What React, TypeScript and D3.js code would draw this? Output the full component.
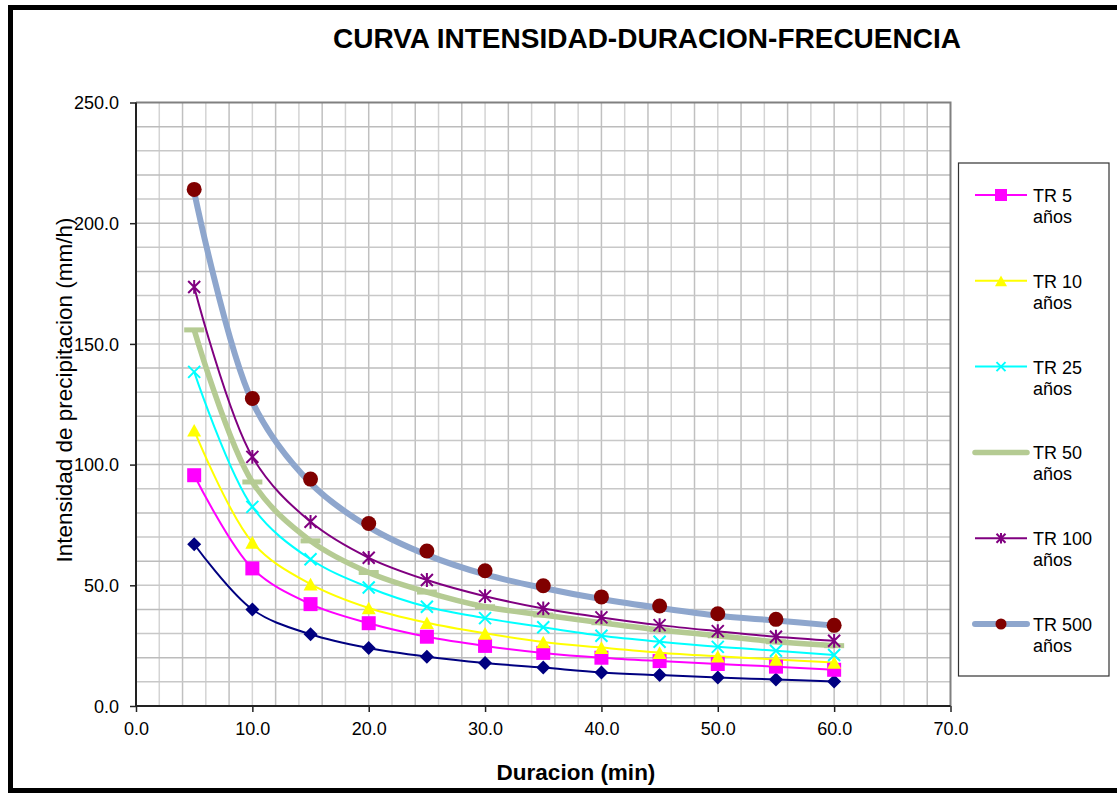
import React, { useEffect, useRef } from 'react';
import * as d3 from 'd3';

// duracion en minutos
const duraciones = [5, 10, 15, 20, 25, 30, 35, 40, 45, 50, 55, 60];

// intensidades (mm/h)
const tr2 = [67.0, 40.0, 29.7, 24.0, 20.4, 17.8, 15.9, 13.9, 12.8, 11.8, 11.0, 10.2];
const tr5 = [95.6, 57.0, 42.2, 34.3, 28.7, 24.9, 22.0, 20.0, 18.6, 17.4, 16.3, 15.0];
const tr10 = [114.2, 67.8, 50.5, 40.6, 34.5, 30.1, 26.5, 24.2, 22.1, 20.6, 19.3, 18.0];
const tr25 = [138.4, 82.5, 60.8, 49.1, 41.1, 36.4, 32.6, 29.1, 26.6, 24.5, 22.9, 21.1];
const tr50 = [155.8, 92.8, 68.4, 55.3, 47.2, 41.1, 37.7, 34.5, 31.5, 29.1, 26.6, 25.0];
const tr100 = [173.6, 103.2, 76.3, 61.4, 52.2, 45.5, 40.4, 36.7, 33.5, 31.0, 28.7, 27.0];
const tr500 = [214.0, 127.4, 94.0, 75.6, 64.2, 56.0, 49.8, 45.2, 41.4, 38.2, 35.9, 33.4];
const tr500Curva = [213.0, 126.0, 92.3, 74.2, 62.6, 54.5, 48.9, 44.3, 40.6, 37.4, 35.4, 33.3];

const xTicks = [0, 10, 20, 30, 40, 50, 60, 70];
const yTicks = [0, 50, 100, 150, 200, 250];

const series = [
  { name: null, values: tr2, line: tr2, color: '#000080', width: 2, marker: 'diamond', mcolor: '#000080' },
  { name: ['TR 5', 'años'], values: tr5, line: tr5, color: '#ff00ff', width: 2, marker: 'square', mcolor: '#ff00ff' },
  { name: ['TR 10', 'años'], values: tr10, line: tr10, color: '#ffff00', width: 2, marker: 'triangle', mcolor: '#ffff00' },
  { name: ['TR 25', 'años'], values: tr25, line: tr25, color: '#00ffff', width: 2, marker: 'x', mcolor: '#00ffff' },
  { name: ['TR 50', 'años'], values: tr50, line: tr50, color: '#b5cb93', width: 5.5, marker: 'dash', mcolor: '#b5cb93' },
  { name: ['TR 100', 'años'], values: tr100, line: tr100, color: '#800080', width: 2, marker: 'star', mcolor: '#800080' },
  { name: ['TR 500', 'años'], values: tr500, line: tr500Curva, color: '#8ea6cd', width: 6, marker: 'circle', mcolor: '#800000' },
];

const FONT = '"Liberation Sans", Arial, sans-serif';

function drawMarker(g, type, color, x, y, s) {
  if (type === 'diamond') {
    g.append('path').attr('d', `M${x},${y - s / 2}L${x + s / 2},${y}L${x},${y + s / 2}L${x - s / 2},${y}Z`).attr('fill', color);
  } else if (type === 'square') {
    g.append('rect').attr('x', x - s / 2).attr('y', y - s / 2).attr('width', s).attr('height', s).attr('fill', color);
  } else if (type === 'triangle') {
    const h = s * 0.9;
    g.append('path').attr('d', `M${x},${y - h / 2}L${x + s / 2},${y + h / 2}L${x - s / 2},${y + h / 2}Z`).attr('fill', color);
  } else if (type === 'x') {
    const r = s / 2;
    g.append('path').attr('d', `M${x - r},${y - r}L${x + r},${y + r}M${x - r},${y + r}L${x + r},${y - r}`)
      .attr('stroke', color).attr('stroke-width', 2).attr('fill', 'none');
  } else if (type === 'star') {
    const r = s / 2;
    g.append('path').attr('d', `M${x - r},${y - r}L${x + r},${y + r}M${x - r},${y + r}L${x + r},${y - r}M${x},${y - r * 1.15}L${x},${y + r * 1.15}`)
      .attr('stroke', color).attr('stroke-width', 2).attr('fill', 'none');
  } else if (type === 'dash') {
    g.append('rect').attr('x', x - 10).attr('y', y - 2.5).attr('width', 20).attr('height', 5).attr('fill', color);
  } else if (type === 'circle') {
    g.append('circle').attr('cx', x).attr('cy', y).attr('r', s / 2).attr('fill', color);
  }
}

export default function App() {
  const svgRef = useRef(null);
  const width = 1117;
  const height = 793;

  useEffect(() => {
    const svg = d3.select(svgRef.current);
    svg.selectAll('*').remove();

    svg.append('rect').attr('width', width).attr('height', height).attr('fill', '#fff');

    const x = d3.scaleLinear().domain([0, 70]).range([136, 950.5]);
    const y = d3.scaleLinear().domain([0, 250]).range([706, 102.5]);

    // cuadricula
    const grid = svg.append('g');
    d3.range(2, 70, 2).forEach((v, i) => {
      grid.append('line').attr('x1', x(v)).attr('x2', x(v)).attr('y1', y(0)).attr('y2', y(250))
        .attr('stroke', i % 2 === 0 ? '#d4d4d4' : '#c0c0c0').attr('stroke-width', 1.5);
    });
    d3.range(10, 250, 10).forEach((v, i) => {
      grid.append('line').attr('x1', x(0)).attr('x2', x(70)).attr('y1', y(v)).attr('y2', y(v))
        .attr('stroke', i % 2 === 0 ? '#c8c8c8' : '#bcbcbc').attr('stroke-width', 1.5);
    });

    // borde del area de trazado
    svg.append('path')
      .attr('d', `M${x(0)},${y(250)}L${x(70)},${y(250)}L${x(70)},${y(0)}`)
      .attr('fill', 'none').attr('stroke', '#808080').attr('stroke-width', 2);

    // ejes
    const yAxis = svg.append('g').attr('transform', `translate(${x(0)},0)`)
      .call(d3.axisLeft(y).tickValues(yTicks).tickSize(6).tickFormat(d3.format('.1f')));
    const xAxis = svg.append('g').attr('transform', `translate(0,${y(0)})`)
      .call(d3.axisBottom(x).tickValues(xTicks).tickSize(6).tickFormat(d3.format('.1f')));
    [yAxis, xAxis].forEach(a => {
      a.select('.domain').attr('stroke', '#222').attr('stroke-width', 2);
      a.selectAll('.tick line').attr('stroke', '#222').attr('stroke-width', 1.5);
      a.selectAll('.tick text').attr('font-family', FONT).attr('font-size', 18).attr('fill', '#000');
    });
    yAxis.select('.domain').attr('d', `M0,${y(250)}V${y(0)}`);
    xAxis.select('.domain').attr('d', `M${x(0)},0H${x(70)}`);
    yAxis.selectAll('.tick text').attr('x', -17).attr('dy', '0.35em');
    xAxis.selectAll('.tick text').attr('y', 16);

    // curvas
    const line = d3.line().x(d => x(d[0])).y(d => y(d[1])).curve(d3.curveCatmullRom.alpha(0.5));
    series.forEach(s => {
      svg.append('path')
        .attr('d', line(duraciones.map((d, i) => [d, s.line[i]])))
        .attr('fill', 'none').attr('stroke', s.color).attr('stroke-width', s.width)
        .attr('stroke-linejoin', 'round');
    });
    series.forEach(s => {
      const g = svg.append('g');
      const size = s.marker === 'x' ? 12 : s.marker === 'star' ? 12 : s.marker === 'circle' ? 15 : 14;
      duraciones.forEach((d, i) => drawMarker(g, s.marker, s.mcolor, x(d), y(s.values[i]), size));
    });

    // titulos
    svg.append('text').attr('x', 647).attr('y', 48).attr('text-anchor', 'middle')
      .attr('font-family', FONT).attr('font-size', 28).attr('font-weight', 'bold')
      .text('CURVA INTENSIDAD-DURACION-FRECUENCIA');
    svg.append('text').attr('transform', `translate(72,390) rotate(-90)`).attr('text-anchor', 'middle')
      .attr('font-family', FONT).attr('font-size', 22.5)
      .text('Intensidad de precipitacion (mm/h)');
    svg.append('text').attr('x', 576).attr('y', 780).attr('text-anchor', 'middle')
      .attr('font-family', FONT).attr('font-size', 22.5).attr('font-weight', 'bold')
      .text('Duracion (min)');

    // leyenda
    const legend = svg.append('g');
    legend.append('rect').attr('x', 958.5).attr('y', 163).attr('width', 150.5).attr('height', 513)
      .attr('fill', '#fff').attr('stroke', '#333').attr('stroke-width', 1.2);
    series.filter(s => s.name).forEach((s, i) => {
      const cy = 195 + i * 85.8;
      legend.append('line').attr('x1', 975).attr('x2', 1027).attr('y1', cy).attr('y2', cy)
        .attr('stroke', s.color).attr('stroke-width', s.width).attr('stroke-linecap', s.width > 3 ? 'round' : 'butt');
      if (s.marker !== 'dash') {
        drawMarker(legend, s.marker, s.mcolor, 1001, cy, s.marker === 'circle' ? 11 : s.marker === 'x' || s.marker === 'star' ? 9 : 12);
      }
      const t = legend.append('text').attr('font-family', FONT).attr('font-size', 18).attr('fill', '#000');
      t.append('tspan').attr('x', 1033).attr('y', cy + 7).text(s.name[0]);
      t.append('tspan').attr('x', 1033).attr('y', cy + 28).text(s.name[1]);
    });

    // marco exterior
    svg.append('rect').attr('x', 10.5).attr('y', 7.5).attr('width', 1120).attr('height', 783)
      .attr('fill', 'none').attr('stroke', '#000').attr('stroke-width', 5);
  }, []);

  return (
    <svg ref={svgRef} width={width} height={height}
      style={{ position: 'absolute', left: 0, top: 0, display: 'block' }} />
  );
}
